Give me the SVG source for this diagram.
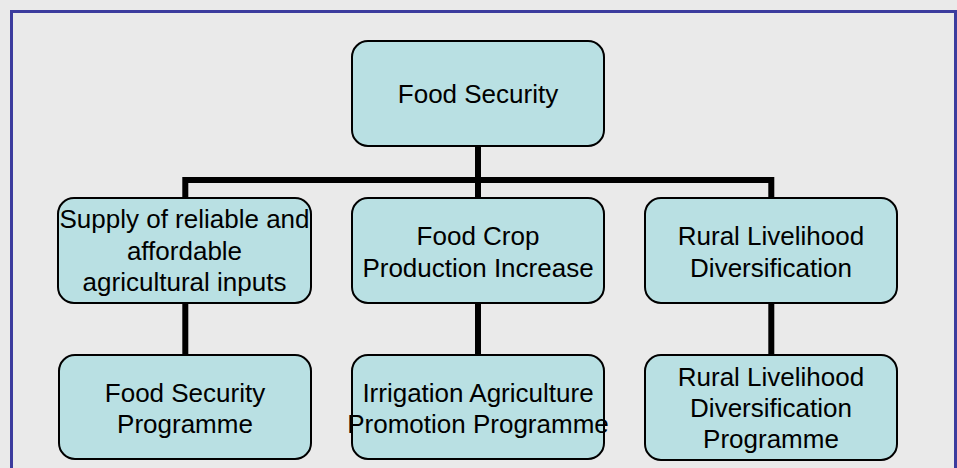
<svg xmlns="http://www.w3.org/2000/svg" width="957" height="468" viewBox="0 0 957 468">
<style>
.bg{fill:#EAEAEA}
.frame{fill:none;stroke:#3C3C9E;stroke-width:3}
.box{fill:#B9E0E3;stroke:#000;stroke-width:2}
.conn{fill:none;stroke:#000;stroke-width:6;stroke-linejoin:miter;stroke-linecap:butt}
text{font-family:"Liberation Sans",Arial,sans-serif;font-size:26px;fill:#000;text-anchor:middle}
</style>
<rect class="bg" x="0" y="0" width="957" height="468"/>
<rect class="frame" x="11.5" y="11.5" width="944" height="480"/>
<g id="connectors">
<path class="conn" d="M478,146 V198"/>
<path class="conn" d="M185.3,198 V180 H771.3 V198"/>
<path class="conn" d="M185.3,303 V355"/>
<path class="conn" d="M478,303 V355"/>
<path class="conn" d="M771.3,303 V355"/>
</g>
<g id="food-security">
<rect class="box" x="352" y="41" width="252" height="105" rx="16"/>
<text x="478" y="103">Food Security</text>
</g>
<g id="supply-inputs">
<rect class="box" x="58" y="198" width="253" height="105" rx="16"/>
<text x="184.5" y="228">Supply of reliable and</text>
<text x="184.5" y="260">affordable</text>
<text x="184.5" y="291">agricultural inputs</text>
</g>
<g id="food-crop">
<rect class="box" x="352" y="198" width="252" height="105" rx="16"/>
<text x="478" y="245">Food Crop</text>
<text x="478" y="277">Production Increase</text>
</g>
<g id="rural-livelihood">
<rect class="box" x="645" y="198" width="252" height="105" rx="16"/>
<text x="771" y="245">Rural Livelihood</text>
<text x="771" y="277">Diversification</text>
</g>
<g id="food-security-programme">
<rect class="box" x="59" y="355" width="252" height="104" rx="16"/>
<text x="185" y="402">Food Security</text>
<text x="185" y="433">Programme</text>
</g>
<g id="irrigation-programme">
<rect class="box" x="352" y="355" width="252" height="104" rx="16"/>
<text x="478" y="402">Irrigation Agriculture</text>
<text x="478" y="433">Promotion Programme</text>
</g>
<g id="rural-livelihood-programme">
<rect class="box" x="645" y="355" width="252" height="105" rx="16"/>
<text x="771" y="386">Rural Livelihood</text>
<text x="771" y="417">Diversification</text>
<text x="771" y="448">Programme</text>
</g>
</svg>
